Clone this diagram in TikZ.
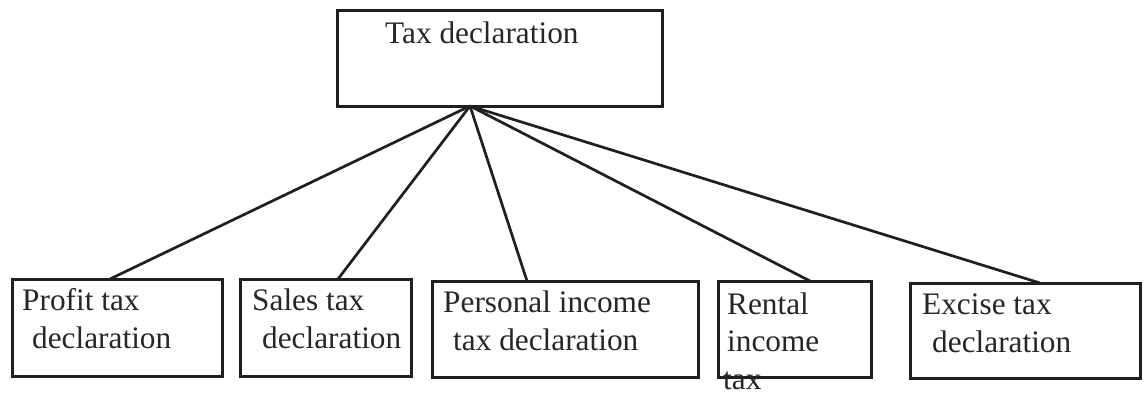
\documentclass[tikz,border=0pt]{standalone}
\usepackage{fontspec}
\setmainfont{Liberation Serif}
\usetikzlibrary{calc}
\begin{document}
\begin{tikzpicture}[x=1bp,y=-1bp,
  box/.style={draw=black!88, line width=3bp, rectangle, inner sep=0pt, outer sep=0pt, anchor=north west},
  link/.style={draw=black!88, line width=2.7bp},
  txt/.style={inner sep=0pt, anchor=base west, align=left, text=black!85,
    font=\fontsize{31.3bp}{37.5bp}\selectfont}]
  \useasboundingbox (0,0) rectangle (1148,396);

  % parent box
  \node[box, minimum width=325bp, minimum height=96bp] (top) at (337,10) {};
  \node[txt] (toplbl) at (385,43) {Tax declaration};
  \coordinate (apex) at ($(top.south west)+(133,0)$);

  % child boxes
  \node[box, minimum width=210bp, minimum height=97bp] (profit) at (12,279) {};
  \node[box, minimum width=171bp, minimum height=97bp] (sales) at (240,279) {};
  \node[box, minimum width=266bp, minimum height=96bp] (personal) at (432,281) {};
  \node[box, minimum width=153bp, minimum height=96bp] (rental) at (718,281) {};
  \node[box, minimum width=230bp, minimum height=95bp] (excise) at (910,283) {};

  % labels (anchored at the baseline of their last line)
  \node[txt] (profitlbl) at (22,348) {Profit tax\\\hspace*{10bp}declaration};
  \node[txt] (saleslbl) at (252,348) {Sales tax\\\hspace*{10bp}declaration};
  \node[txt] (personallbl) at (443,350) {Personal income\\\hspace*{10bp}tax declaration};
  \node[txt] (rentallbl) at (727,389) {Rental\\income\\\hspace*{-4bp}tax};
  \node[txt] (exciselbl) at (922,352) {Excise tax\\\hspace*{10bp}declaration};

  % connectors
  \draw[link] (apex) -- ($(profit.north west)+(98,0)$);
  \draw[link] (apex) -- ($(sales.north west)+(98,0)$);
  \draw[link] (apex) -- ($(personal.north west)+(95,0)$);
  \draw[link] (apex) -- ($(rental.north west)+(92,0)$);
  \draw[link] (apex) -- ($(excise.north west)+(130,0)$);
\end{tikzpicture}
\end{document}
